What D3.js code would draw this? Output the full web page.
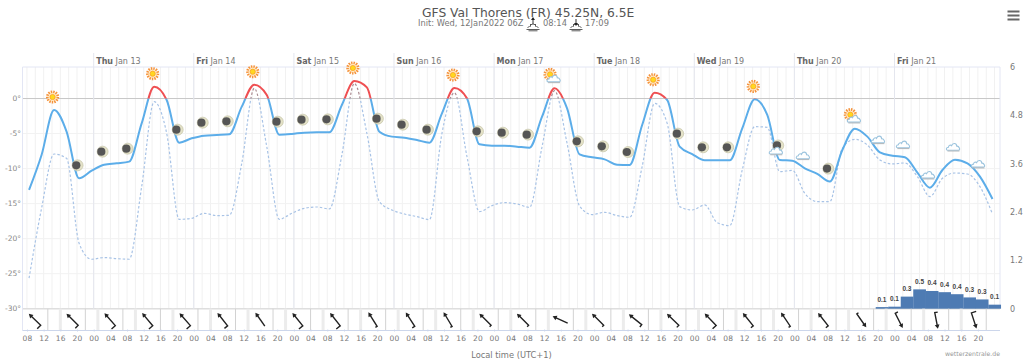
<!DOCTYPE html>
<html>
<head>
<meta charset="utf-8">
<style>
body { margin: 0; background: #fff; }
text { font-family: "DejaVu Sans", sans-serif; }
</style>
<script src="https://cdn.jsdelivr.net/npm/d3@7"></script>
</head>
<body>
<script>
// hours are counted from Thu Jan 13 00:00 local time
var startHour = -15.5, stepHour = 3;
var temp850 = [-13.05,-8.06,-1.64,-4.73,-11.39,-10.3,-9.44,-9.25,-9.01,-3.54,1.69,-0.21,-6.3,-5.68,-5.3,-5.21,-5.11,-1.16,1.97,0.5,
    -5.16,-5.06,-4.87,-4.83,-4.83,-0.93,2.5,1.59,-4.73,-5.44,-5.59,-5.92,-6.3,-2.12,1.5,0.02,-6.54,-6.73,-6.73,-6.87,
    -7.01,-2.59,1.45,-1.4,-7.96,-8.39,-8.68,-9.44,-9.49,-3.78,0.83,-0.21,-6.87,-7.92,-8.82,-8.82,-8.82,-4.26,-0.12,-2.35,
    -8.77,-8.87,-9.96,-10.77,-11.86,-7.35,-4.3,-5.44,-7.68,-8.16,-8.39,-10.58,-12.72,-10.2,-8.73,-9.25,-11.15,-14.34];
var dewPoint = [-25.65,-15.67,-7.92,-8.54,-20.66,-22.94,-22.7,-22.85,-22.94,-12.58,-0.45,-4.97,-17.24,-17.1,-16.38,-16.71,-16.67,-9.25,1.45,-6.87,
    -17.24,-16.38,-15.67,-15.48,-15.76,-8.06,2.16,-4.97,-14.72,-15.91,-16.48,-16.86,-17.28,-4.97,0.83,-8.3,-16.14,-15.29,-14.86,-15.05,
    -15.53,-6.87,1.12,-6.39,-15.34,-16.57,-16.24,-16.71,-16.95,-9.72,-0.69,-3.54,-15.43,-15.91,-15.19,-17.71,-18.14,-10.2,-4.02,-4.11,
    -10.44,-10.25,-13.53,-14.72,-14.72,-7.11,-5.82,-6.63,-8.77,-9.34,-9.2,-11.15,-14.0,-11.39,-10.63,-10.77,-12.58,-16.48];

// weather symbol on every second point, starting at index 2
var symbols = ["sun","moon","moon","moon","sun","moon","moon","moon","sun","moon","moon","moon","sun","moon","moon","moon","sun","moon","moon","moon",
    "suncloud","moon","moon","moon","sun","moon","moon","moon","sun","mooncloud","cloud","moon","suncloud","cloud","cloud","cloud","cloud","cloud"];

// wind arrows: heading in degrees clockwise from north, barb size
var windStart = -14, windStep = 9;
var windHeading = [-46,-45,-41,-40,-41,-38,-35,-39,-38,-32,-33,-31,-45,-45,-66,-45,-51,-46,-44,-39,-34,-38,145,153,169,162];
var windBarb = [5,4,5,5,5,4,0,5,5,2,3,2,2,2,0,2,3,3,5,3,2,3,2,3,3,5];

var rainStart = 187.5;
var rain = [0.04,0.05,0.3,0.48,0.44,0.41,0.36,0.28,0.23,0.1];
var rainLabels = ["0.1","0.1","0.3","0.5","0.4","0.4","0.4","0.3","0.3","0.1"];

var dayHours = [0,24,48,72,96,120,144,168,192];
var dayNames = ["Thu","Fri","Sat","Sun","Mon","Tue","Wed","Thu","Fri"];
var dayDates = ["Jan 13","Jan 14","Jan 15","Jan 16","Jan 17","Jan 18","Jan 19","Jan 20","Jan 21"];
var tempTicks = [0,-5,-10,-15,-20,-25,-30];
var rainTicks = [0,1.2,2.4,3.6,4.8,6];

var width = 1024, height = 359;
var plotTop = 67, plotBottom = 308.7, windBottom = 330.5, plotLeft = 22.5, plotRight = 1000;

var svg = d3.select("body").append("svg")
    .attr("width", width).attr("height", height)
    .style("display", "block");

var x = d3.scaleLinear().domain([-17.07, 217.3]).range([plotLeft, plotRight]);
var y = d3.scaleLinear().domain([-30, 4.5]).range([plotBottom, plotTop]);
var yRain = d3.scaleLinear().domain([0, 6]).range([plotBottom, plotTop]);

var hourOf = function (d, i) { return startHour + i * stepHour; };

// grid
var grid = svg.append("g");
grid.selectAll(".minor").data(d3.range(-16, 217, 2)).enter().append("line")
    .attr("x1", function (d) { return x(d); }).attr("x2", function (d) { return x(d); })
    .attr("y1", plotTop).attr("y2", plotBottom)
    .attr("stroke", "#f1f1f1");
grid.selectAll(".hgrid").data(tempTicks).enter().append("line")
    .attr("x1", plotLeft).attr("x2", plotRight)
    .attr("y1", function (d) { return y(d); }).attr("y2", function (d) { return y(d); })
    .attr("stroke", function (d) { return d === 0 ? "#c8c8c8" : d === -30 ? "#dedede" : "#f2f2f2"; })
    .attr("stroke-width", function (d) { return d === -30 ? 1.5 : 1; });
grid.selectAll(".day").data(dayHours).enter().append("line")
    .attr("x1", function (d) { return x(d); }).attr("x2", function (d) { return x(d); })
    .attr("y1", 53).attr("y2", plotBottom)
    .attr("stroke", "#e4e6ee");
grid.append("path")
    .attr("d", "M" + plotLeft + "," + windBottom + "V" + plotTop + "H" + plotRight + "V" + plotBottom)
    .attr("fill", "none").attr("stroke", "#e3e6f4");

// top labels
var dayText = svg.selectAll(".dayLabel").data(dayHours).enter().append("text")
    .attr("x", function (d) { return x(d) + 2.5; })
    .attr("y", 64)
    .attr("font-size", 8)
    .attr("fill", "#777");
dayText.append("tspan").attr("font-weight", "bold").attr("fill", "#666").text(function (d, i) { return dayNames[i]; });
dayText.append("tspan").text(function (d, i) { return " " + dayDates[i]; });

// left and right axes
svg.selectAll(".tempLabel").data(tempTicks).enter().append("text")
    .attr("x", 21).attr("y", function (d) { return y(d) + 2.5; })
    .attr("text-anchor", "end").attr("font-size", 7.5).attr("fill", "#888")
    .text(function (d) { return d + "\u00b0"; });
svg.selectAll(".rainLabel").data(rainTicks).enter().append("text")
    .attr("x", 1010).attr("y", function (d) { return yRain(d) + 3; })
    .attr("font-size", 8).attr("fill", "#777")
    .text(function (d) { return d; });

// rain
svg.selectAll(".rainBar").data(rain).enter().append("rect")
    .attr("x", function (d, i) { return x(rainStart + i * 3); })
    .attr("width", x(3) - x(0) + 0.2)
    .attr("y", function (d) { return yRain(d); })
    .attr("height", function (d) { return yRain(0) - yRain(d); })
    .attr("fill", "#4e7bb3");
svg.selectAll(".rainValue").data(rain).enter().append("text")
    .attr("x", function (d, i) { return x(rainStart + i * 3 + 1.5); })
    .attr("y", function (d) { return yRain(d) - 5.5; })
    .attr("text-anchor", "middle").attr("font-size", 6.5).attr("font-weight", "bold").attr("fill", "#444")
    .style("font-family", "Liberation Sans")
    .text(function (d, i) { return rainLabels[i]; });

// temperature lines, red above freezing
var clips = svg.append("defs");
clips.append("clipPath").attr("id", "above").append("rect")
    .attr("x", plotLeft).attr("width", plotRight - plotLeft).attr("y", plotTop).attr("height", y(0) - plotTop);
clips.append("clipPath").attr("id", "below").append("rect")
    .attr("x", plotLeft).attr("width", plotRight - plotLeft).attr("y", y(0)).attr("height", plotBottom - y(0));

var line = d3.line()
    .x(function (d, i) { return x(hourOf(d, i)); })
    .y(function (d) { return y(d); })
    .curve(d3.curveMonotoneX);

function drawPair(values, colBelow, colAbove, w, dash) {
    [["below", colBelow], ["above", colAbove]].forEach(function (p) {
        svg.append("path")
            .attr("d", line(values))
            .attr("clip-path", "url(#" + p[0] + ")")
            .attr("fill", "none")
            .attr("stroke", p[1])
            .attr("stroke-width", w)
            .attr("stroke-dasharray", dash);
    });
}
drawPair(dewPoint, "#a8c3e6", "#a98a90", 1.2, "2.5,2");
drawPair(temp850, "#5cade9", "#ef4f52", 2, null);

// weather symbols
function drawSun(g) {
    g.append("circle").attr("r", 5.3).attr("fill", "#ffe9c4").attr("stroke", "#f5913a").attr("stroke-width", 2.6).attr("stroke-dasharray", "1.4,1.1");
    g.append("circle").attr("r", 2.6).attr("fill", "#ffd820").attr("stroke", "#fb9b20").attr("stroke-width", 0.7);
}
function drawMoon(g) {
    g.append("circle").attr("r", 5.5).attr("fill", "#e4e2c8").attr("stroke", "#bdbc9e").attr("stroke-width", 0.6);
    g.append("circle").attr("cx", -1.3).attr("r", 4.1).attr("fill", "#555");
}
function drawCloud(g) {
    g.append("path")
        .attr("d", "M-6,3.5C-7.5,3.5 -7.5,0.5 -5,0.5C-5,-1.5 -2.7,-2 -1.8,-1C-1,-4 3,-4 3.3,-0.5C5.5,-1 7.5,3.5 5,3.5Z")
        .attr("fill", "#fff").attr("stroke", "#9cc4de").attr("stroke-width", 1.1);
    g.append("line").attr("x1", -6).attr("x2", 6).attr("y1", 4.3).attr("y2", 4.3).attr("stroke", "#b0b6ba");
}
var symbolG = svg.selectAll(".symbol").data(symbols).enter().append("g")
    .attr("transform", function (d, i) {
        var k = 2 + i * 2;
        return "translate(" + (x(startHour + k * stepHour) - 1.5) + "," + (y(temp850[k]) - 13) + ")";
    });
symbolG.each(function (d) {
    var g = d3.select(this);
    if (d === "sun") drawSun(g);
    if (d === "moon") drawMoon(g);
    if (d === "cloud") drawCloud(g);
    if (d === "suncloud") {
        drawSun(g.append("g").attr("transform", "translate(-3,-1)"));
        drawCloud(g.append("g").attr("transform", "translate(1,3)"));
    }
    if (d === "mooncloud") {
        drawMoon(g.append("g").attr("transform", "translate(0,-1.5)"));
        drawCloud(g.append("g").attr("transform", "translate(-2,3.5)"));
    }
});

// wind panel
var windGrid = svg.append("g");
windGrid.selectAll(".sepLight").data(d3.range(-8, 217, 9)).enter().append("line")
    .attr("x1", function (d) { return x(d); }).attr("x2", function (d) { return x(d); })
    .attr("y1", plotBottom).attr("y2", windBottom)
    .attr("stroke", "#ececec").attr("stroke-width", 3);
windGrid.selectAll(".sep").data(d3.range(-11, 217, 9)).enter().append("line")
    .attr("x1", function (d) { return x(d); }).attr("x2", function (d) { return x(d); })
    .attr("y1", plotBottom).attr("y2", windBottom)
    .attr("stroke", "#d2d2d2");

var barbs = svg.selectAll(".barb").data(windHeading).enter().append("g")
    .attr("transform", function (d, i) {
        return "translate(" + x(windStart + i * windStep) + ",320) rotate(" + d + ")";
    });
barbs.append("path")
    .attr("d", function (d, i) { return "M0,-7V7.5" + (windBarb[i] ? "h" + (-windBarb[i]) : ""); })
    .attr("fill", "none").attr("stroke", "#222").attr("stroke-width", 1.4);
barbs.append("path").attr("d", "M0,-9L2.4,-4.8L-2.4,-4.8Z").attr("fill", "#222");

// bottom axis
var bottomTicks = d3.range(-16, 216, 4);
var axis = d3.axisBottom(x)
    .tickValues(bottomTicks)
    .tickSize(2)
    .tickSizeOuter(0)
    .tickFormat(function (d) { return d3.format("02")(((d % 24) + 24) % 24); });
var axisG = svg.append("g").attr("transform", "translate(0," + (windBottom - 1) + ")").call(axis);
axisG.select(".domain").attr("stroke", "#ccd6eb").attr("d", "M" + plotLeft + ",1H" + plotRight);
axisG.selectAll(".tick line").attr("stroke", "#ccd6eb");
axisG.selectAll(".tick text")
    .attr("y", 8).attr("dy", "0.5em")
    .attr("font-family", "DejaVu Sans").attr("font-size", 7.5).attr("letter-spacing", 0.2).attr("fill", "#777");

svg.append("text").attr("x", 511.5).attr("y", 358)
    .attr("text-anchor", "middle").attr("font-size", 8.3).attr("fill", "#777")
    .text("Local time (UTC+1)");
svg.append("text").attr("x", 1000).attr("y", 356)
    .attr("text-anchor", "end").attr("font-size", 6.2).attr("fill", "#999")
    .text("wetterzentrale.de");

// title
svg.append("text").attr("x", 422).attr("y", 17)
    .attr("font-size", 12.3).attr("fill", "#555")
    .text("GFS Val Thorens (FR) 45.25N, 6.5E");
var subtitleY = 26;
svg.append("text").attr("x", 418).attr("y", subtitleY).attr("font-size", 8.3).attr("fill", "#777").text("Init: Wed, 12Jan2022 06Z");
svg.append("text").attr("x", 543).attr("y", subtitleY).attr("font-size", 8.3).attr("fill", "#777").text("08:14");
svg.append("text").attr("x", 585).attr("y", subtitleY).attr("font-size", 8.3).attr("fill", "#777").text("17:09");

function sunMark(cx, up) {
    var g = svg.append("g").attr("transform", "translate(" + cx + ",0)")
        .attr("stroke", "#333").attr("fill", "none").attr("stroke-width", 0.8);
    g.append("path").attr("d", "M-6.5,29.5H6.5M-4.5,30.8H4.5M-3,27A3,3 0 0 1 3,27M-5.5,27.5L-3.5,26.5M5.5,27.5L3.5,26.5M-3,24L-2,25M3,24L2,25");
    g.append("path").attr("d", "M0,19V24").attr("stroke-width", 1);
    g.append("path").attr("stroke", "none").attr("fill", "#222")
        .attr("d", up ? "M0,17L2,20H-2Z" : "M0,26L2,23H-2Z");
}
sunMark(533, true);
sunMark(576, false);

// export menu
svg.append("g").attr("fill", "#666").selectAll("rect").data([10.5, 14.5, 18.5]).enter().append("rect")
    .attr("x", 1007.5).attr("width", 12).attr("height", 2).attr("y", function (d) { return d; });
</script>
</body>
</html>
